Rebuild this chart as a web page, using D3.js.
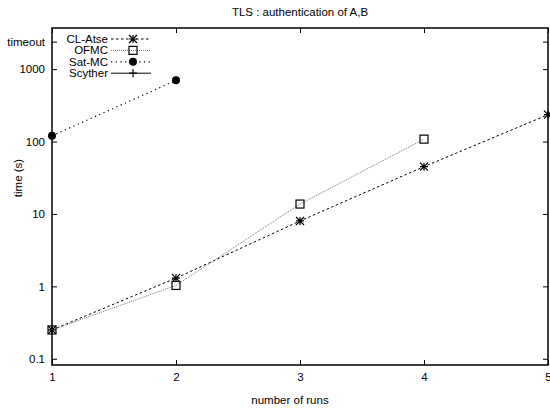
<!DOCTYPE html>
<html>
<head>
<meta charset="utf-8">
<script src="https://cdn.jsdelivr.net/npm/d3@7"></script>
<style>
    body { margin: 0; background: #fff; }
    svg { display: block; font-family: "Liberation Sans", Arial, sans-serif; }
</style>
</head>
<body>
<svg id="chart" width="550" height="410"></svg>
<script>
// runs on the x axis
const runs = [1, 2, 3, 4, 5];

// seconds per tool
const clAtse = [0.25, 1.3, 8, 45, 235];
const ofmc = [0.25, 1.03, 13.7, 108];
const satMc = [120, 700];
const scyther = [];

const seriesNames = ["CL-Atse", "OFMC", "Sat-MC", "Scyther"];

// y ticks, "timeout" stands for the time limit
const yTickValues = [0.1, 1, 10, 100, 1000, 2400];
const yTickLabels = ["0.1", "1", "10", "100", "1000", "timeout"];
const xTickValues = [1, 2, 3, 4, 5];

const width = 550, height = 410;
const margin = { top: 28, right: 2, bottom: 45, left: 52 };
const fontSize = "11.5px";

const svg = d3.select("#chart");

const x = d3.scaleLinear()
    .domain([1, 5])
    .range([margin.left, width - margin.right]);

const y = d3.scaleLog()
    .domain([0.082, 3700])
    .range([height - margin.bottom, margin.top]);

//series styles, close to the gnuplot terminal look
const styles = [
    { color: "#000", dash: "2.5,2.5", width: 1, marker: "star" },
    { color: "#777", dash: "1,1", width: 1, marker: "square" },
    { color: "#000", dash: "1.2,3.5", width: 1.2, marker: "circle" },
    { color: "#000", dash: null, width: 1, marker: "plus" },
];

const allSeries = [clAtse, ofmc, satMc, scyther].map((vals, i) => ({
    name: seriesNames[i],
    style: styles[i],
    points: vals.map((v, j) => ({ x: runs[j], y: v })),
}));

// axes, ticks point inward like gnuplot
const tickLen = 5;
const gx = svg.append("g")
    .attr("transform", `translate(0,${height - margin.bottom})`)
    .call(d3.axisBottom(x).tickValues(xTickValues).tickFormat(d3.format("d")).tickSizeInner(-tickLen).tickSizeOuter(0).tickPadding(8));
const gxTop = svg.append("g")
    .attr("transform", `translate(0,${margin.top})`)
    .call(d3.axisTop(x).tickValues(xTickValues).tickFormat("").tickSizeInner(-tickLen).tickSizeOuter(0));
const gy = svg.append("g")
    .attr("transform", `translate(${margin.left},0)`)
    .call(d3.axisLeft(y).tickValues(yTickValues).tickFormat((d, i) => yTickLabels[i]).tickSizeInner(-tickLen).tickSizeOuter(0).tickPadding(7));
const gyRight = svg.append("g")
    .attr("transform", `translate(${width - margin.right},0)`)
    .call(d3.axisRight(y).tickValues(yTickValues).tickFormat("").tickSizeInner(-tickLen).tickSizeOuter(0));

[gx, gxTop, gy, gyRight].forEach(g => {
    g.select(".domain").remove();
    g.selectAll(".tick line").attr("stroke", "#000").attr("stroke-width", 1);
    g.selectAll(".tick text").attr("fill", "#000").style("font-size", fontSize)
        .style("font-family", "'Liberation Sans', Arial, sans-serif");
});

// frame
svg.append("rect")
    .attr("x", margin.left)
    .attr("y", margin.top)
    .attr("width", width - margin.left - margin.right)
    .attr("height", height - margin.top - margin.bottom)
    .attr("fill", "none")
    .attr("stroke", "#000")
    .attr("stroke-width", 1.5);

function drawMarker(g, type, cx, cy, color) {
    const s = 4;
    if (type === "star") {
        g.append("path")
            .attr("d", `M${cx - s},${cy}H${cx + s}M${cx},${cy - s}V${cy + s}M${cx - s},${cy - s}L${cx + s},${cy + s}M${cx - s},${cy + s}L${cx + s},${cy - s}`)
            .attr("stroke", color).attr("stroke-width", 1.2).attr("fill", "none");
    } else if (type === "square") {
        g.append("rect")
            .attr("x", cx - s).attr("y", cy - s)
            .attr("width", 2 * s).attr("height", 2 * s)
            .attr("fill", "none").attr("stroke", "#000").attr("stroke-width", 1.2);
    } else if (type === "circle") {
        g.append("circle").attr("cx", cx).attr("cy", cy).attr("r", 4).attr("fill", "#000");
    } else if (type === "plus") {
        g.append("path")
            .attr("d", `M${cx - s},${cy}H${cx + s}M${cx},${cy - s}V${cy + s}`)
            .attr("stroke", "#000").attr("stroke-width", 1.2);
    }
}

const line = d3.line().x(d => x(d.x)).y(d => y(d.y));

allSeries.forEach(s => {
    const g = svg.append("g");
    if (s.points.length > 1) {
        g.append("path")
            .datum(s.points)
            .attr("d", line)
            .attr("fill", "none")
            .attr("stroke", s.style.color)
            .attr("stroke-width", s.style.width)
            .attr("stroke-dasharray", s.style.dash);
    }
    s.points.forEach(p => drawMarker(g, s.style.marker, x(p.x), y(p.y), "#000"));
});

// legend, top left inside the plot
const legend = svg.append("g").attr("transform", "translate(108,39)");
allSeries.forEach((s, i) => {
    const row = legend.append("g").attr("transform", `translate(0,${i * 11.4})`);
    row.append("text")
        .attr("text-anchor", "end")
        .attr("dy", "0.35em")
        .style("font-size", fontSize)
        .text(s.name);
    row.append("line")
        .attr("x1", 3).attr("x2", 43)
        .attr("stroke", s.style.color)
        .attr("stroke-width", s.style.width)
        .attr("stroke-dasharray", s.style.dash);
    drawMarker(row, s.style.marker, 25, 0, "#000");
});

// title and axis labels
svg.append("text")
    .attr("x", 300).attr("y", 16)
    .attr("text-anchor", "middle")
    .style("font-size", fontSize)
    .text("TLS : authentication of A,B");

svg.append("text")
    .attr("x", 290).attr("y", 404)
    .attr("text-anchor", "middle")
    .style("font-size", fontSize)
    .text("number of runs");

svg.append("text")
    .attr("transform", "translate(22,178) rotate(-90)")
    .attr("text-anchor", "middle")
    .style("font-size", fontSize)
    .text("time (s)");
</script>
</body>
</html>
